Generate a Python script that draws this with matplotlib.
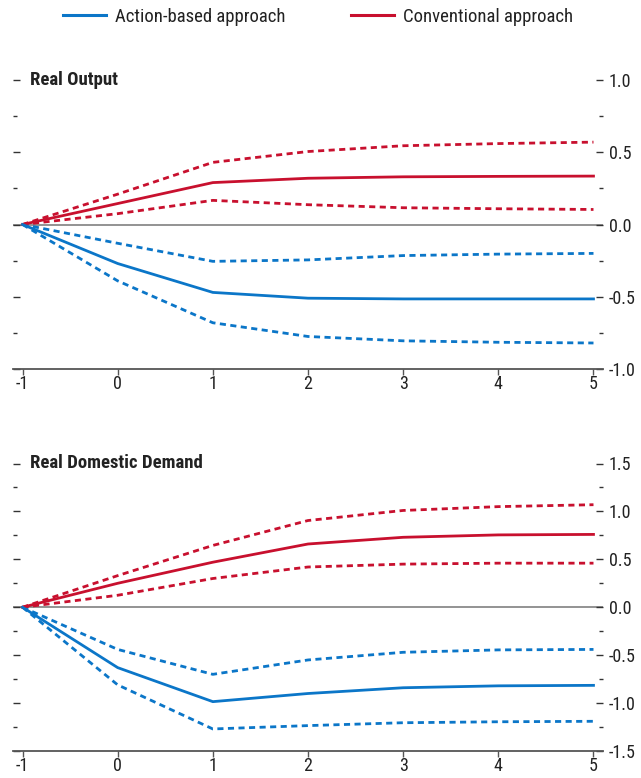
import numpy as np
import matplotlib
matplotlib.use('Agg')
import matplotlib.pyplot as plt
import matplotlib.transforms as mtransforms
from matplotlib.ticker import MultipleLocator, FuncFormatter
from matplotlib.lines import Line2D

plt.rcParams['font.family'] = ['Roboto Condensed', 'Roboto', 'DejaVu Sans']
plt.rcParams['axes.unicode_minus'] = False

BLUE = '#0b76c8'
RED = '#c8102e'

years = [-1, 0, 1, 2, 3, 4, 5]

# Real output
out_act = [0, -0.27, -0.47, -0.51, -0.515, -0.515, -0.515]
out_act_hi = [0, -0.13, -0.255, -0.245, -0.215, -0.205, -0.20]
out_act_lo = [0, -0.39, -0.68, -0.775, -0.805, -0.815, -0.82]
out_conv = [0, 0.145, 0.29, 0.32, 0.33, 0.333, 0.335]
out_conv_hi = [0, 0.21, 0.43, 0.505, 0.545, 0.56, 0.57]
out_conv_lo = [0, 0.075, 0.167, 0.137, 0.116, 0.109, 0.104]

# Real domestic demand
dd_act = [0, -0.63, -0.985, -0.90, -0.84, -0.82, -0.815]
dd_act_hi = [0, -0.44, -0.70, -0.55, -0.47, -0.445, -0.44]
dd_act_lo = [0, -0.81, -1.27, -1.235, -1.205, -1.195, -1.19]
dd_conv = [0, 0.25, 0.47, 0.66, 0.73, 0.755, 0.76]
dd_conv_hi = [0, 0.33, 0.645, 0.905, 1.01, 1.05, 1.07]
dd_conv_lo = [0, 0.125, 0.30, 0.42, 0.45, 0.46, 0.46]

W, H = 641, 778
FS = 13
TFS = 13.5
fig = plt.figure(figsize=(W / 100, H / 100), dpi=100)


def panel(rect, title, ylim, major, act, act_hi, act_lo, conv, conv_hi, conv_lo):
    ax = fig.add_axes(rect)
    ax.axhline(0, color='#808080', lw=1.2, zorder=1)
    dash = (2.2, 1.6)
    for hi, lo, c in ((conv_hi, conv_lo, RED), (act_hi, act_lo, BLUE)):
        ax.plot(years, hi, color=c, lw=2.0, dashes=dash, zorder=2)
        ax.plot(years, lo, color=c, lw=2.0, dashes=dash, zorder=2)
    ax.plot(years, conv, color=RED, lw=2.0, zorder=3)
    ax.plot(years, act, color=BLUE, lw=2.0, zorder=3)

    ax.set_xlim(-1.1, 5.1)
    ax.set_ylim(*ylim)
    for s in ('top', 'left', 'right'):
        ax.spines[s].set_visible(False)
    ax.spines['bottom'].set_color('#555555')
    ax.spines['bottom'].set_linewidth(1.3)

    ax.xaxis.set_major_locator(MultipleLocator(1))
    ax.xaxis.set_major_formatter(FuncFormatter(lambda v, p: f'{int(round(v))}'))
    ax.tick_params(axis='x', direction='out', length=4.5, width=1, color='#555555',
                   labelsize=FS, pad=0, labelcolor='#222222')

    ax.yaxis.set_major_locator(MultipleLocator(major))
    ax.yaxis.set_minor_locator(MultipleLocator(major / 2))
    ax.yaxis.set_major_formatter(FuncFormatter(lambda v, p: f'{v:.1f}'))
    ax.tick_params(axis='y', which='both', left=True, right=True, labelleft=False,
                   labelright=True, direction='in', color='#333333', width=1,
                   labelsize=FS, pad=4, labelcolor='#222222')
    ax.tick_params(axis='y', which='major', length=5)
    ax.tick_params(axis='y', which='minor', length=3)

    trans = mtransforms.blended_transform_factory(ax.transAxes, ax.transData)
    ax.text(0.0288, ylim[1], title, transform=trans, ha='left', va='center',
            fontsize=TFS, fontweight='bold', color='#222222')
    return ax


left = 13 / W
width = 590 / W
panel([left, 1 - 369 / H, width, 289 / H], 'Real Output', (-1.0, 1.0), 0.5,
      out_act, out_act_hi, out_act_lo, out_conv, out_conv_hi, out_conv_lo)
panel([left, 1 - 751 / H, width, 287.5 / H], 'Real Domestic Demand', (-1.5, 1.5), 0.5,
      dd_act, dd_act_hi, dd_act_lo, dd_conv, dd_conv_hi, dd_conv_lo)

handles = [Line2D([], [], color=BLUE, lw=2.2), Line2D([], [], color=RED, lw=2.2)]
fig.legend(handles, ['Action-based approach', 'Conventional approach'], loc='center left',
           bbox_to_anchor=(63 / W, 1 - 17 / H), ncol=2, frameon=False, fontsize=TFS,
           borderpad=0, borderaxespad=0, handlelength=2.3, handletextpad=0.48,
           columnspacing=3.5, labelcolor='#222222')

fig.savefig('out.png', dpi=100)
